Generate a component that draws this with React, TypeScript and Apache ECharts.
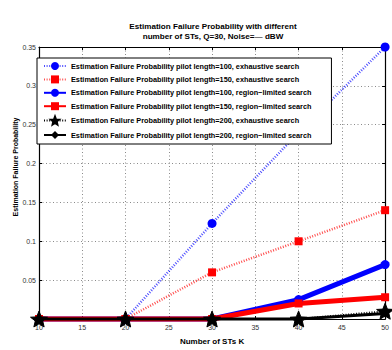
import React, { useEffect, useRef } from "react";
import * as echarts from "echarts";

// Number of STs K (x positions)
const numberOfSTs = [10, 20, 30, 40, 50];

// Estimation failure probability per configuration
const pilot100Exhaustive = [0, 0, 0.123, 0.24, 0.35];
const pilot150Exhaustive = [0, 0, 0.06, 0.1, 0.14];
const pilot100RegionLimited = [0, 0, 0, 0.025, 0.07];
const pilot150RegionLimited = [0, 0, 0, 0.02, 0.028];
const pilot200Exhaustive = [0, 0, 0, 0, 0.01];
const pilot200RegionLimited = [0, 0, 0, 0, 0.007];

const seriesNames = [
  "Estimation Failure Probability pilot length=100, exhaustive search",
  "Estimation Failure Probability pilot length=150, exhaustive search",
  "Estimation Failure Probability pilot length=100, region\u2212limited search",
  "Estimation Failure Probability pilot length=150, region\u2212limited search",
  "Estimation Failure Probability pilot length=200, exhaustive search",
  "Estimation Failure Probability pilot length=200, region\u2212limited search",
];

const titleText = "Estimation Failure Probability with different\nnumber of STs, Q=30, Noise=\u2014 dBW";
const xAxisTitle = "Number of STs K";
const yAxisTitle = "Estimation Failure Probability";

const FONT = "'Liberation Sans', Arial, Helvetica, sans-serif";

// five-pointed star (pentagram) marker, fuller inner radius
const STAR =
  "path://M50,0 L63,33 L98,35 L71,56 L79,90 L50,72 L21,90 L29,56 L2,35 L37,33 Z";

const pairs = (ys: number[]) => numberOfSTs.map((x, i) => [x, ys[i]]);

export default function App() {
  const ref = useRef<HTMLDivElement>(null);

  useEffect(() => {
    if (!ref.current) return;
    const chart = echarts.init(ref.current, undefined, { renderer: "svg" });

    const dotted = [1, 1.6];
    const mk = (
      name: string,
      ys: number[],
      color: string,
      width: number,
      type: any,
      symbol: string,
      size: number,
      opacity = 1,
      border = 0
    ) => ({
      name,
      type: "line",
      data: pairs(ys),
      clip: false,
      symbol,
      symbolSize: size,
      symbolKeepAspect: true,
      showSymbol: true,
      itemStyle: { color, opacity: 1, borderColor: color, borderWidth: border },
      lineStyle: { color, width, type, opacity },
      emphasis: { disabled: true },
      z: 3,
    });

    const gridLine = { show: true, lineStyle: { color: "#8a8a8a", type: [1, 2.5], width: 1 } };
    const frame = { show: true, onZero: false, lineStyle: { color: "#000", width: 1.2 } };
    const tick = { show: true, inside: true, length: 3, lineStyle: { color: "#000" } };

    chart.setOption({
      animation: false,
      backgroundColor: "#fff",
      title: {
        text: titleText,
        left: 213,
        top: 22,
        textAlign: "center",
        padding: 0,
        textStyle: { fontFamily: FONT, fontSize: 8.1, fontWeight: "bold", color: "#000", lineHeight: 9.5 },
      },
      grid: { left: 39, right: 6, top: 47, bottom: 31, containLabel: false },
      legend: {
        orient: "vertical",
        left: 37,
        top: 58,
        padding: [4, 20, 5, 6],
        itemWidth: 22,
        itemHeight: 10,
        itemGap: 5.4,
        selectedMode: false,
        backgroundColor: "#fff",
        borderColor: "#000",
        borderWidth: 1,
        borderRadius: 0,
        data: seriesNames,
        textStyle: { fontFamily: FONT, fontSize: 7.3, fontWeight: "bold", color: "#000" },
      },
      xAxis: [
        {
          type: "value",
          position: "bottom",
          min: 10,
          max: 50,
          interval: 5,
          name: xAxisTitle,
          nameLocation: "middle",
          nameGap: 18,
          nameTextStyle: { fontFamily: FONT, fontSize: 8, fontWeight: "bold", color: "#000" },
          axisLine: frame,
          axisTick: tick,
          axisLabel: { fontFamily: FONT, fontSize: 7, color: "#333", margin: 5 },
          splitLine: gridLine,
        },
        {
          type: "value",
          position: "top",
          min: 10,
          max: 50,
          interval: 5,
          axisLine: frame,
          axisTick: tick,
          axisLabel: { show: false },
          splitLine: { show: false },
        },
      ],
      yAxis: [
        {
          type: "value",
          position: "left",
          min: 0,
          max: 0.35,
          interval: 0.05,
          axisLine: frame,
          axisTick: tick,
          axisLabel: {
            fontFamily: FONT,
            fontSize: 7,
            color: "#333",
            margin: 3,
            formatter: (v: number) => (v === 0 ? "" : String(Math.round(v * 100) / 100)),
          },
          splitLine: gridLine,
        },
        {
          type: "value",
          position: "right",
          min: 0,
          max: 0.35,
          interval: 0.05,
          axisLine: frame,
          axisTick: tick,
          axisLabel: { show: false },
          splitLine: { show: false },
        },
      ],
      graphic: [
        {
          type: "text",
          x: 15,
          y: 167,
          rotation: Math.PI / 2,
          style: {
            text: yAxisTitle,
            fontFamily: FONT,
            fontSize: 7,
            fontWeight: "bold",
            fill: "#000",
            textAlign: "center",
            textVerticalAlign: "middle",
          },
        },
      ],
      series: [
        mk(seriesNames[0], pilot100Exhaustive, "#0000ff", 2.5, dotted, "circle", 9, 0.7),
        mk(seriesNames[1], pilot150Exhaustive, "#ff0000", 2.5, dotted, "rect", 8, 0.7),
        mk(seriesNames[2], pilot100RegionLimited, "#0000ff", 5, "solid", "circle", 9),
        mk(seriesNames[3], pilot150RegionLimited, "#ff0000", 5, "solid", "rect", 8),
        mk(seriesNames[4], pilot200Exhaustive, "#000000", 2, dotted, STAR, 17, 1, 1),
        mk(seriesNames[5], pilot200RegionLimited, "#000000", 3, "solid", "diamond", 8),
      ],
    });

    return () => chart.dispose();
  }, []);

  return (
    <div
      ref={ref}
      style={{ position: "absolute", left: 0, top: 0, width: 392, height: 350, background: "#fff" }}
    />
  );
}
